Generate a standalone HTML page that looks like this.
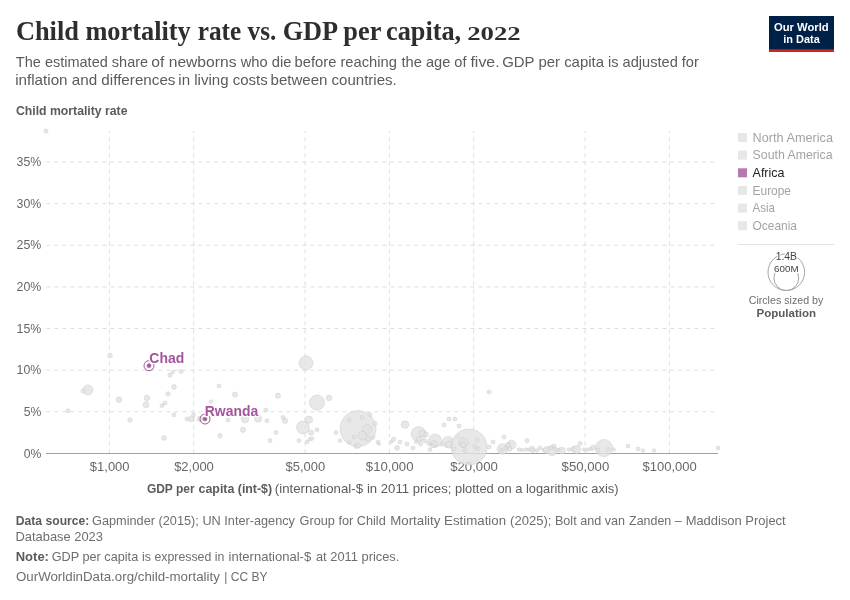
<!DOCTYPE html>
<html lang="en"><head><meta charset="utf-8"><title>Child mortality rate vs. GDP per capita, 2022</title>
<style>html,body{margin:0;padding:0;background:#fff}body{width:850px;height:600px;overflow:hidden}svg{display:block;font-family:"Liberation Sans",sans-serif}.serif{font-family:"Liberation Serif",serif}</style></head><body>
<svg width="850" height="600" viewBox="0 0 850 600">
<rect width="850" height="600" fill="#fff"/>
<text y="40" font-size="27" fill="#2e2e2e" font-weight="bold" class="serif"><tspan x="15.91" textLength="174.84" lengthAdjust="spacingAndGlyphs">Child mortality</tspan> <tspan x="197.72" textLength="78.59" lengthAdjust="spacingAndGlyphs">rate vs.</tspan> <tspan x="282.64" textLength="98.22" lengthAdjust="spacingAndGlyphs">GDP per</tspan> <tspan x="386.1" textLength="75.1" lengthAdjust="spacingAndGlyphs">capita,</tspan></text>
<text class="serif" x="467.2" y="40" font-size="19.6" font-weight="bold" fill="#2e2e2e" textLength="53.5" lengthAdjust="spacingAndGlyphs">2022</text>
<text y="66.7" font-size="15" fill="#5b5b5b"><tspan x="15.87" textLength="132.27" lengthAdjust="spacingAndGlyphs">The estimated share</tspan> <tspan x="151.34" textLength="85.12" lengthAdjust="spacingAndGlyphs">of newborns</tspan> <tspan x="240.72" textLength="50.63" lengthAdjust="spacingAndGlyphs">who die</tspan> <tspan x="294.55" textLength="102.4" lengthAdjust="spacingAndGlyphs">before reaching</tspan> <tspan x="401.48" textLength="65.1" lengthAdjust="spacingAndGlyphs">the age of</tspan> <tspan x="470.48" textLength="29.07" lengthAdjust="spacingAndGlyphs">five.</tspan> <tspan x="502.15" textLength="101.85" lengthAdjust="spacingAndGlyphs">GDP per capita</tspan> <tspan x="608.02" textLength="90.82" lengthAdjust="spacingAndGlyphs">is adjusted for</tspan></text>
<text y="84.7" font-size="15" fill="#5b5b5b"><tspan x="15.19" textLength="160.26" lengthAdjust="spacingAndGlyphs">inflation and differences</tspan> <tspan x="178.39" textLength="89.35" lengthAdjust="spacingAndGlyphs">in living costs</tspan> <tspan x="270.53" textLength="126.24" lengthAdjust="spacingAndGlyphs">between countries.</tspan></text>
<rect x="769" y="16" width="65" height="36" fill="#002147"/><rect x="769" y="49.3" width="65" height="2.7" fill="#ce261e"/>
<text x="801.3" y="30.6" font-size="11.5" fill="#fff" text-anchor="middle" font-weight="bold" textLength="54.7" lengthAdjust="spacingAndGlyphs">Our World</text>
<text x="801.5" y="42.6" font-size="11.5" fill="#fff" text-anchor="middle" font-weight="bold" textLength="36.5" lengthAdjust="spacingAndGlyphs">in Data</text>
<text x="16" y="115" font-size="13.4" fill="#5b5b5b" font-weight="bold" textLength="111.5" lengthAdjust="spacingAndGlyphs">Child mortality rate</text>
<g stroke="#dddddd" stroke-width="1" stroke-dasharray="4,4" fill="none"><path d="M46.4 162.00H716"/><path d="M46.4 203.63H716"/><path d="M46.4 245.26H716"/><path d="M46.4 286.89H716"/><path d="M46.4 328.52H716"/><path d="M46.4 370.15H716"/><path d="M46.4 411.78H716"/><path d="M109.4 453.4V131.1"/><path d="M193.7 453.4V131.1"/><path d="M305.1 453.4V131.1"/><path d="M389.4 453.4V131.1"/><path d="M473.7 453.4V131.1"/><path d="M585.1 453.4V131.1"/><path d="M669.4 453.4V131.1"/></g>
<path d="M46 453.5H718" stroke="#a1a1a1" stroke-width="1" fill="none"/>
<text x="41.3" y="166.1" font-size="13" fill="#666" text-anchor="end" textLength="24.7" lengthAdjust="spacingAndGlyphs">35%</text>
<text x="41.3" y="207.7" font-size="13" fill="#666" text-anchor="end" textLength="24.7" lengthAdjust="spacingAndGlyphs">30%</text>
<text x="41.3" y="249.4" font-size="13" fill="#666" text-anchor="end" textLength="24.7" lengthAdjust="spacingAndGlyphs">25%</text>
<text x="41.3" y="291.0" font-size="13" fill="#666" text-anchor="end" textLength="24.7" lengthAdjust="spacingAndGlyphs">20%</text>
<text x="41.3" y="332.6" font-size="13" fill="#666" text-anchor="end" textLength="24.7" lengthAdjust="spacingAndGlyphs">15%</text>
<text x="41.3" y="374.2" font-size="13" fill="#666" text-anchor="end" textLength="24.7" lengthAdjust="spacingAndGlyphs">10%</text>
<text x="41.3" y="415.9" font-size="13" fill="#666" text-anchor="end" textLength="17.6" lengthAdjust="spacingAndGlyphs">5%</text>
<text x="41.3" y="457.5" font-size="13" fill="#666" text-anchor="end" textLength="17.6" lengthAdjust="spacingAndGlyphs">0%</text>
<text x="109.7" y="471.1" font-size="13" fill="#666" text-anchor="middle" textLength="39.7" lengthAdjust="spacingAndGlyphs">$1,000</text>
<text x="194.0" y="471.1" font-size="13" fill="#666" text-anchor="middle" textLength="39.7" lengthAdjust="spacingAndGlyphs">$2,000</text>
<text x="305.40000000000003" y="471.1" font-size="13" fill="#666" text-anchor="middle" textLength="39.7" lengthAdjust="spacingAndGlyphs">$5,000</text>
<text x="389.7" y="471.1" font-size="13" fill="#666" text-anchor="middle" textLength="47.7" lengthAdjust="spacingAndGlyphs">$10,000</text>
<text x="474.0" y="471.1" font-size="13" fill="#666" text-anchor="middle" textLength="47.7" lengthAdjust="spacingAndGlyphs">$20,000</text>
<text x="585.4" y="471.1" font-size="13" fill="#666" text-anchor="middle" textLength="47.7" lengthAdjust="spacingAndGlyphs">$50,000</text>
<text x="669.6999999999999" y="471.1" font-size="13" fill="#666" text-anchor="middle" textLength="54.3" lengthAdjust="spacingAndGlyphs">$100,000</text>
<text y="493" font-size="13" fill="#5b5b5b" font-weight="bold"><tspan x="146.91" textLength="47.67" lengthAdjust="spacingAndGlyphs">GDP per</tspan> <tspan x="198.62" textLength="73.5" lengthAdjust="spacingAndGlyphs">capita (int-$)</tspan></text>
<text y="493" font-size="13" fill="#5b5b5b"><tspan x="274.88" textLength="88.13" lengthAdjust="spacingAndGlyphs">(international-$</tspan> <tspan x="366.93" textLength="84.43" lengthAdjust="spacingAndGlyphs">in 2011 prices;</tspan> <tspan x="455.07" textLength="67.43" lengthAdjust="spacingAndGlyphs">plotted on a</tspan> <tspan x="525.94" textLength="92.46" lengthAdjust="spacingAndGlyphs">logarithmic axis)</tspan></text>
<g fill="#e2e2e2" fill-opacity="0.8" stroke="#c4c4c4" stroke-opacity="0.8" stroke-width="0.5"><circle cx="46" cy="131" r="2.1"/><circle cx="110" cy="355.6" r="2.4"/><circle cx="88" cy="390" r="5"/><circle cx="83" cy="391" r="2"/><circle cx="68" cy="410.8" r="2"/><circle cx="119" cy="399.6" r="2.8"/><circle cx="147" cy="398" r="2.8"/><circle cx="146" cy="404.8" r="3"/><circle cx="130" cy="420" r="2.2"/><circle cx="170" cy="375" r="2.2"/><circle cx="173" cy="372" r="1.8"/><circle cx="181" cy="371.6" r="2"/><circle cx="174" cy="387" r="2.4"/><circle cx="168" cy="394" r="2.2"/><circle cx="165" cy="403" r="2"/><circle cx="162" cy="405.6" r="2"/><circle cx="174" cy="414.8" r="2"/><circle cx="164" cy="438" r="2.4"/><circle cx="187" cy="419" r="2"/><circle cx="191.4" cy="419" r="2.8"/><circle cx="193.6" cy="415" r="2"/><circle cx="200" cy="419" r="2.8"/><circle cx="306" cy="363" r="7"/><circle cx="219" cy="386" r="2"/><circle cx="235" cy="394.6" r="2.6"/><circle cx="278" cy="395.6" r="2.6"/><circle cx="211" cy="401.6" r="1.8"/><circle cx="317" cy="402.6" r="7.6"/><circle cx="329" cy="398" r="2.8"/><circle cx="266" cy="410" r="2"/><circle cx="228" cy="420" r="2"/><circle cx="245" cy="419" r="3.8"/><circle cx="258" cy="418.6" r="3.6"/><circle cx="267" cy="420.8" r="2"/><circle cx="283" cy="417.6" r="2"/><circle cx="285" cy="420.8" r="2.6"/><circle cx="309" cy="419.6" r="3.6"/><circle cx="303" cy="427.4" r="6.4"/><circle cx="311" cy="432.6" r="2.6"/><circle cx="317" cy="429.8" r="2"/><circle cx="243" cy="429.8" r="2.6"/><circle cx="220" cy="435.8" r="2.2"/><circle cx="276" cy="432.6" r="2"/><circle cx="270" cy="440.6" r="2"/><circle cx="299" cy="440.6" r="2"/><circle cx="307" cy="442" r="1.8"/><circle cx="309.6" cy="439.4" r="1.8"/><circle cx="312" cy="438.6" r="1.8"/><circle cx="336" cy="432.6" r="2"/><circle cx="340" cy="440.6" r="1.9"/><circle cx="358" cy="428.6" r="18"/><circle cx="349" cy="420" r="2"/><circle cx="362" cy="417.6" r="2"/><circle cx="370" cy="414.6" r="2"/><circle cx="375" cy="423.6" r="2"/><circle cx="367" cy="429.4" r="4.8"/><circle cx="362.4" cy="435.6" r="4.4"/><circle cx="368" cy="438.6" r="2.6"/><circle cx="373" cy="437.6" r="1.8"/><circle cx="354" cy="437" r="2"/><circle cx="349" cy="442.6" r="1.8"/><circle cx="357.6" cy="445.6" r="2.8"/><circle cx="355.6" cy="446.6" r="1.8"/><circle cx="378" cy="442" r="2"/><circle cx="379" cy="444" r="1.6"/><circle cx="391" cy="442" r="1.6"/><circle cx="393.6" cy="439.4" r="2.2"/><circle cx="400" cy="442" r="2"/><circle cx="397" cy="448" r="2.4"/><circle cx="407" cy="444" r="2"/><circle cx="413" cy="448" r="2"/><circle cx="405" cy="424.6" r="3.8"/><circle cx="418.6" cy="434" r="7.4"/><circle cx="422" cy="433.4" r="3.2"/><circle cx="426" cy="434.6" r="2.4"/><circle cx="419" cy="439.4" r="2.8"/><circle cx="416" cy="442" r="1.8"/><circle cx="420.6" cy="444" r="2"/><circle cx="425" cy="441" r="2"/><circle cx="429" cy="443.6" r="2"/><circle cx="435" cy="440.6" r="6.6"/><circle cx="434" cy="444" r="3.4"/><circle cx="432.6" cy="445.4" r="1.8"/><circle cx="430" cy="449.6" r="2"/><circle cx="442" cy="444.6" r="1.8"/><circle cx="448" cy="442" r="5.6"/><circle cx="449" cy="444.6" r="3.6"/><circle cx="444" cy="425" r="2"/><circle cx="449" cy="419" r="2"/><circle cx="455" cy="419" r="2"/><circle cx="459" cy="426" r="2"/><circle cx="458" cy="437" r="1.8"/><circle cx="469" cy="447" r="18"/><circle cx="463.6" cy="442.6" r="4.8"/><circle cx="463" cy="444.6" r="2.8"/><circle cx="454" cy="449" r="2"/><circle cx="465" cy="450.6" r="1.8"/><circle cx="477" cy="440" r="2"/><circle cx="475" cy="447" r="1.8"/><circle cx="478" cy="448.6" r="1.8"/><circle cx="489" cy="392" r="2"/><circle cx="493" cy="442" r="2"/><circle cx="489" cy="447" r="2"/><circle cx="504" cy="437" r="2"/><circle cx="502.4" cy="449" r="5.2"/><circle cx="511.6" cy="444.6" r="4.4"/><circle cx="508" cy="445" r="2.6"/><circle cx="509.6" cy="449" r="2.4"/><circle cx="505.6" cy="448" r="1.8"/><circle cx="501.6" cy="450" r="1.8"/><circle cx="527" cy="440.6" r="2"/><circle cx="519" cy="449.6" r="1.8"/><circle cx="522" cy="450" r="1.6"/><circle cx="526" cy="449.6" r="1.8"/><circle cx="529" cy="449.6" r="1.6"/><circle cx="532" cy="449" r="2.8"/><circle cx="533" cy="450.6" r="2"/><circle cx="537" cy="450.6" r="1.8"/><circle cx="540" cy="448" r="2"/><circle cx="544" cy="450" r="2"/><circle cx="547" cy="450" r="3.6"/><circle cx="552" cy="450.6" r="5"/><circle cx="551" cy="448" r="2"/><circle cx="554" cy="446" r="2"/><circle cx="556" cy="449.6" r="2"/><circle cx="560" cy="450" r="2"/><circle cx="562" cy="450.6" r="3.4"/><circle cx="569" cy="449.6" r="1.8"/><circle cx="574" cy="449" r="2.8"/><circle cx="576.6" cy="449.6" r="4"/><circle cx="580" cy="443.6" r="2"/><circle cx="584" cy="449.6" r="1.8"/><circle cx="587.4" cy="449.6" r="1.8"/><circle cx="591" cy="449" r="1.8"/><circle cx="593" cy="447.6" r="2.4"/><circle cx="604" cy="448" r="8.6"/><circle cx="598" cy="450" r="2"/><circle cx="608" cy="449.6" r="2"/><circle cx="613.6" cy="449.6" r="1.8"/><circle cx="628" cy="446" r="2"/><circle cx="638" cy="449" r="2"/><circle cx="643" cy="450.6" r="1.8"/><circle cx="654" cy="450.6" r="1.8"/><circle cx="718" cy="448" r="2"/></g>
<circle cx="149" cy="365.7" r="5" fill="none" stroke="#a2559c" stroke-width="1"/><circle cx="149" cy="365.7" r="2.1" fill="#a2559c" stroke="#a08e9f" stroke-width="0.6"/>
<circle cx="205" cy="419" r="5" fill="none" stroke="#a2559c" stroke-width="1"/><circle cx="205" cy="419" r="2.1" fill="#a2559c" stroke="#a08e9f" stroke-width="0.6"/>
<text x="149.33" y="362.6" font-size="14.8" fill="#a2559c" font-weight="bold" textLength="34.89" lengthAdjust="spacingAndGlyphs" stroke="#fff" stroke-width="2.5" paint-order="stroke" stroke-linejoin="round">Chad</text>
<text x="204.77" y="415.6" font-size="14.8" fill="#a2559c" font-weight="bold" textLength="53.44" lengthAdjust="spacingAndGlyphs" stroke="#fff" stroke-width="2.5" paint-order="stroke" stroke-linejoin="round">Rwanda</text>
<rect x="738" y="133.0" width="9" height="9" fill="#e7e7e7"/>
<text x="752.6" y="141.7" font-size="13" fill="#a3a3a3" textLength="80.4" lengthAdjust="spacingAndGlyphs">North America</text>
<rect x="738" y="150.6" width="9" height="9" fill="#e7e7e7"/>
<text x="752.6" y="159.3" font-size="13" fill="#a3a3a3" textLength="80" lengthAdjust="spacingAndGlyphs">South America</text>
<rect x="738" y="168.3" width="9" height="9" fill="#a2559c" fill-opacity="0.8"/>
<text x="752.6" y="177.0" font-size="13" fill="#222" textLength="31.8" lengthAdjust="spacingAndGlyphs">Africa</text>
<rect x="738" y="185.9" width="9" height="9" fill="#e7e7e7"/>
<text x="752.6" y="194.6" font-size="13" fill="#a3a3a3" textLength="38.4" lengthAdjust="spacingAndGlyphs">Europe</text>
<rect x="738" y="203.6" width="9" height="9" fill="#e7e7e7"/>
<text x="752.6" y="212.3" font-size="13" fill="#a3a3a3" textLength="22.4" lengthAdjust="spacingAndGlyphs">Asia</text>
<rect x="738" y="221.2" width="9" height="9" fill="#e7e7e7"/>
<text x="752.6" y="229.9" font-size="13" fill="#a3a3a3" textLength="44.4" lengthAdjust="spacingAndGlyphs">Oceania</text>
<path d="M738 244.5H834" stroke="#e2e2e2" stroke-width="1"/>
<circle cx="786.3" cy="272.2" r="18.3" fill="none" stroke="#a6a6a6" stroke-width="1"/><circle cx="786.3" cy="278.1" r="12.4" fill="none" stroke="#a6a6a6" stroke-width="1"/>
<text x="786.3" y="260" font-size="10" fill="#444" text-anchor="middle" textLength="21.3" lengthAdjust="spacingAndGlyphs" stroke="#fff" stroke-width="2" paint-order="stroke" stroke-linejoin="round">1.4B</text>
<text x="786.3" y="271.8" font-size="9.5" fill="#444" text-anchor="middle" textLength="24.5" lengthAdjust="spacingAndGlyphs" stroke="#fff" stroke-width="2" paint-order="stroke" stroke-linejoin="round">600M</text>
<text x="786" y="303.6" font-size="11.5" fill="#6e6e6e" text-anchor="middle" textLength="74.6" lengthAdjust="spacingAndGlyphs">Circles sized by</text>
<text x="786.3" y="317.3" font-size="11.5" fill="#5b5b5b" text-anchor="middle" font-weight="bold" textLength="59.5" lengthAdjust="spacingAndGlyphs">Population</text>
<text x="15.79" y="525" font-size="13" fill="#5b5b5b" font-weight="bold" textLength="73.58" lengthAdjust="spacingAndGlyphs">Data source:</text>
<text y="525" font-size="13" fill="#6e6e6e"><tspan x="92.06" textLength="106.78" lengthAdjust="spacingAndGlyphs">Gapminder (2015);</tspan> <tspan x="202.42" textLength="92.51" lengthAdjust="spacingAndGlyphs">UN Inter-agency</tspan> <tspan x="299.56" textLength="86.16" lengthAdjust="spacingAndGlyphs">Group for Child</tspan> <tspan x="390.21" textLength="115.85" lengthAdjust="spacingAndGlyphs">Mortality Estimation</tspan> <tspan x="510.09" textLength="41.38" lengthAdjust="spacingAndGlyphs">(2025);</tspan> <tspan x="554.97" textLength="69.95" lengthAdjust="spacingAndGlyphs">Bolt and van</tspan> <tspan x="629.11" textLength="52.5" lengthAdjust="spacingAndGlyphs">Zanden –</tspan> <tspan x="685.64" textLength="100.06" lengthAdjust="spacingAndGlyphs">Maddison Project</tspan></text>
<text x="15.54" y="541.1" font-size="13" fill="#6e6e6e" textLength="87.42" lengthAdjust="spacingAndGlyphs">Database 2023</text>
<text x="15.73" y="561.1" font-size="13" fill="#5b5b5b" font-weight="bold" textLength="33.22" lengthAdjust="spacingAndGlyphs">Note:</text>
<text y="561.1" font-size="13" fill="#6e6e6e"><tspan x="51.76" textLength="86.44" lengthAdjust="spacingAndGlyphs">GDP per capita</tspan> <tspan x="142.08" textLength="82.23" lengthAdjust="spacingAndGlyphs">is expressed in</tspan> <tspan x="228.53" textLength="82.68" lengthAdjust="spacingAndGlyphs">international-$</tspan> <tspan x="315.96" textLength="83.4" lengthAdjust="spacingAndGlyphs">at 2011 prices.</tspan></text>
<text y="581.3" font-size="13" fill="#6e6e6e"><tspan x="15.97" textLength="203.86" lengthAdjust="spacingAndGlyphs">OurWorldinData.org/child-mortality</tspan> <tspan x="224.22" textLength="43.24" lengthAdjust="spacingAndGlyphs">| CC BY</tspan></text>
</svg></body></html>
